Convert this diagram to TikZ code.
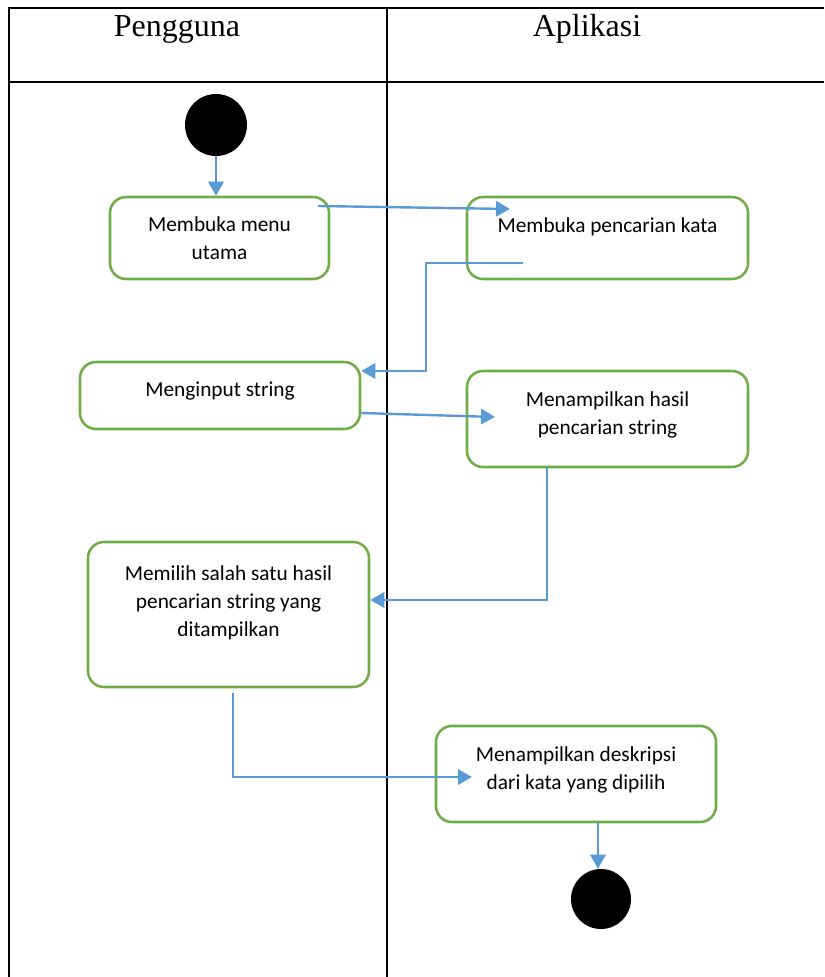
\documentclass[tikz,border=0pt]{standalone}
\usepackage{fontspec}
\setmainfont{Liberation Serif}
\newfontfamily\actfont{Carlito}
\usetikzlibrary{arrows.meta}
\definecolor{actgreen}{HTML}{70AD47}
\definecolor{flowblue}{HTML}{5B9BD5}
\begin{document}
\begin{tikzpicture}[x=0.75pt, y=-0.75pt,
  lane/.style={line width=1.5pt},
  lanetitle/.style={anchor=base, font=\fontsize{24}{28}\selectfont},
  activity/.style={draw=actgreen, line width=1.9pt, rounded corners=12pt, align=center,
    font=\actfont\fontsize{16}{21}\selectfont, inner sep=0pt},
  flow/.style={draw=flowblue, line width=1.8pt, -{Triangle[length=10.5pt, width=11.5pt]}},
  dot/.style={circle, fill=black, inner sep=0pt}]
  \useasboundingbox (0,0) rectangle (824,977);

  % Swimlanes
  \draw[lane] (824,8) -- (9,8) -- (9,977);
  \draw[lane] (9,82) -- (824,82);
  \draw[lane] (387,8) -- (387,977);
  \node[lanetitle] (pengguna) at (177,37) {Pengguna};
  \node[lanetitle] (aplikasi) at (587,37) {Aplikasi};

  % Start and end
  \node[dot, minimum size=46.5pt] (start) at (216,125) {};
  \node[dot, minimum size=45pt] (end) at (601,899) {};

  % Activities
  \node[activity, minimum width=164.25pt, minimum height=61.5pt, text height=32pt, text depth=0pt]
    (menu) at (219.5,238) {Membuka menu\\utama};
  \node[activity, minimum width=210.75pt, minimum height=61.5pt, text height=11pt, text depth=20pt]
    (cari) at (607.5,238) {Membuka pencarian kata};
  \node[activity, minimum width=210pt, minimum height=50.25pt, text height=11pt, text depth=9.2pt]
    (input) at (220,395.5) {Menginput string};
  \node[activity, minimum width=210.75pt, minimum height=72pt, text height=32pt, text depth=9.5pt]
    (hasil) at (607.5,419) {Menampilkan hasil\\pencarian string};
  \node[activity, minimum width=210.75pt, minimum height=108.75pt, text height=53pt, text depth=20.75pt]
    (pilih) at (228.5,614.5) {Memilih salah satu hasil\\pencarian string yang\\ditampilkan};
  \node[activity, minimum width=210pt, minimum height=72pt, text height=32pt, text depth=9.5pt]
    (desk) at (576,774) {Menampilkan deskripsi\\dari kata yang dipilih};

  % Flow ends
  \coordinate (m1) at (318,206);
  \coordinate (c1) at (510,209);
  \coordinate (c2) at (523,263);
  \coordinate (bend1) at (426,371);
  \coordinate (i1) at (361,413);
  \coordinate (h1) at (495,417);
  \coordinate (h2) at (547,467);
  \coordinate (bend2) at (547,600);
  \coordinate (p1) at (233,693);
  \coordinate (d1) at (472,777);
  \coordinate (d2) at (598,822);

  % Flows
  \draw[flow] (start) -- (start |- menu.north);
  \draw[flow] (m1) -- (c1);
  \draw[flow] (c2) -| (bend1) -- (bend1 -| input.east);
  \draw[flow] (i1) -- (h1);
  \draw[flow] (h2) -- (bend2) -- (bend2 -| pilih.east);
  \draw[flow] (p1) |- (d1);
  \draw[flow] (d2) -- (d2 |- end.north);
\end{tikzpicture}
\end{document}
